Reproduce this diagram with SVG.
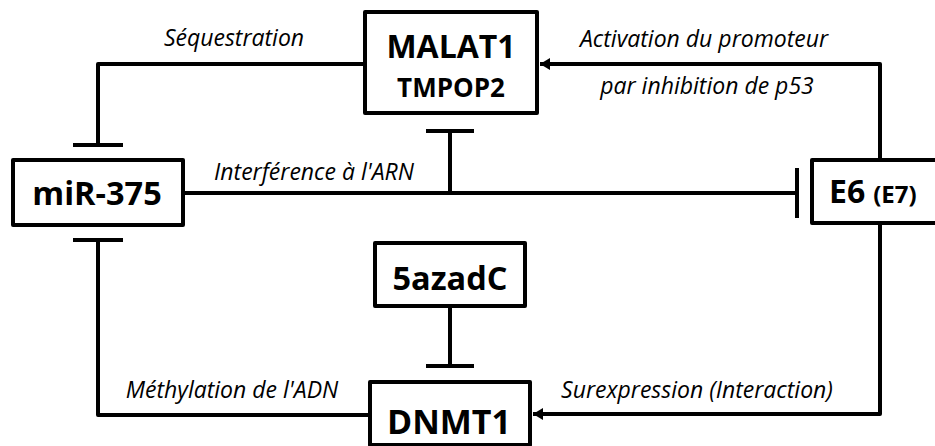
<svg xmlns="http://www.w3.org/2000/svg" width="935" height="446" viewBox="0 0 935 446">
<style>
.box{fill:#fff;stroke:#000;stroke-width:4;stroke-linejoin:round}
.ln{fill:none;stroke:#000;stroke-width:4;stroke-linejoin:round}
.node{font-family:"Open Sans","Liberation Sans",sans-serif;font-weight:bold;fill:#000;text-anchor:middle}
.lbl{font-family:"Open Sans","Liberation Sans",sans-serif;font-style:italic;font-size:23px;fill:#000;text-anchor:middle}
</style>
<defs>
<marker id="arr" viewBox="0 0 10 12" refX="10" refY="6" markerWidth="10" markerHeight="12" markerUnits="userSpaceOnUse" orient="auto">
<path d="M0,0 L10,6 L0,12 Z" fill="#000"/>
</marker>
</defs>
<rect width="935" height="446" fill="#fff"/>
<g id="connectors">
<path class="ln" d="M365,64 H98 V145"/>
<path class="ln" d="M73,145 H123"/>
<path class="ln" d="M880,160 V64 H540" marker-end="url(#arr)"/>
<path class="ln" d="M183,193 H797"/>
<path class="ln" d="M797,168 V218"/>
<path class="ln" d="M450,193 V131"/>
<path class="ln" d="M426,131 H474"/>
<path class="ln" d="M372,415 H98 V240"/>
<path class="ln" d="M73,240 H123"/>
<path class="ln" d="M450,306 V366"/>
<path class="ln" d="M426,366 H474"/>
<path class="ln" d="M880,223 V414 H533" marker-end="url(#arr)"/>
<text class="lbl" x="234" y="46">Séquestration</text>
<text class="lbl" x="704" y="47">Activation du promoteur</text>
<text class="lbl" x="707" y="94">par inhibition de p53</text>
<text class="lbl" x="314" y="180">Interférence à l'ARN</text>
<text class="lbl" x="232" y="398">Méthylation de l'ADN</text>
<text class="lbl" x="697" y="398">Surexpression (Interaction)</text>
</g>
<g id="malat1">
<rect class="box" x="365" y="12" width="172" height="101"/>
<text class="node" x="451" y="58" font-size="32">MALAT1</text>
<text class="node" x="451" y="97" font-size="26">TMPOP2</text>
</g>
<g id="mir375">
<rect class="box" x="13" y="160" width="170" height="65"/>
<text class="node" x="97" y="205" font-size="32.5">miR-375</text>
</g>
<g id="e6">
<rect class="box" x="812" y="160" width="140" height="63"/>
<text x="829" y="203" class="node" style="text-anchor:start"><tspan font-size="32">E6</tspan><tspan font-size="24" dx="8">(E7)</tspan></text>
</g>
<g id="azadc">
<rect class="box" x="375" y="243" width="150" height="63"/>
<text class="node" x="450" y="290" font-size="32.5">5azadC</text>
</g>
<g id="dnmt1">
<rect class="box" x="370" y="382" width="160" height="63"/>
<text class="node" x="449" y="434" font-size="34">DNMT1</text>
</g>
</svg>
